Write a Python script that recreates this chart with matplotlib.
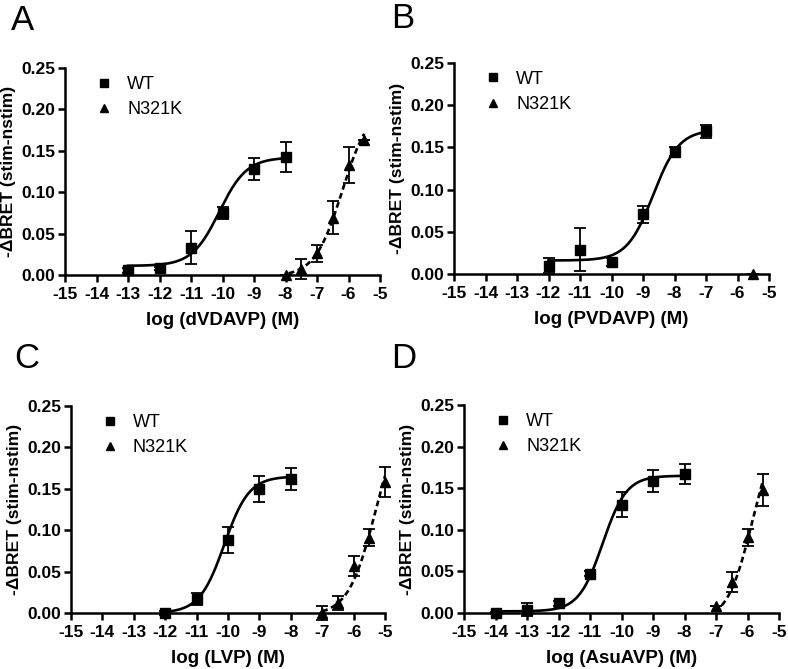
import numpy as np
import matplotlib
matplotlib.use('Agg')
import matplotlib.pyplot as plt

plt.rcParams['font.family'] = ['Liberation Sans', 'DejaVu Sans']
plt.rcParams['axes.unicode_minus'] = False

# ---- data ----
# panel A  (dVDAVP)
a_wt_x = [-13, -12, -11, -10, -9, -8]
a_wt_y = [0.006, 0.008, 0.033, 0.075, 0.128, 0.143]
a_wt_e = [0.003, 0.002, 0.020, 0.007, 0.013, 0.018]
a_mut_x = [-8, -7.5, -7, -6.5, -6, -5.5]
a_mut_y = [0.000, 0.007, 0.026, 0.069, 0.133, 0.163]
a_mut_e = [0.000, 0.012, 0.010, 0.020, 0.022, 0.000]
# fitted sigmoid parameters: bottom, top, logEC50, hill
a_wt_fit = (0.011, 0.142, -10.1, 1.0)
a_mut_fit = (-0.002, 0.205, -6.2, 1.0)

# panel B  (PVDAVP)
b_wt_x = [-12, -11, -10, -9, -8, -7]
b_wt_y = [0.010, 0.029, 0.014, 0.071, 0.145, 0.169]
b_wt_e = [0.009, 0.025, 0.005, 0.010, 0.005, 0.008]
b_mut_x = [-5.5]
b_mut_y = [0.000]
b_mut_e = [0.000]
b_wt_fit = (0.016, 0.171, -8.68, 1.05)
b_mut_fit = None

# panel C  (LVP)
c_wt_x = [-12, -11, -10, -9, -8]
c_wt_y = [0.000, 0.017, 0.088, 0.150, 0.162]
c_wt_e = [0.002, 0.007, 0.016, 0.016, 0.013]
c_mut_x = [-7, -6.5, -6, -5.5, -5]
c_mut_y = [0.000, 0.012, 0.057, 0.091, 0.158]
c_mut_e = [0.008, 0.008, 0.012, 0.010, 0.018]
c_wt_fit = (0.0, 0.165, -10.12, 1.1)
c_mut_fit = (-0.003, 0.25, -5.3, 1.0)

# panel D  (AsuAVP)
d_wt_x = [-14, -13, -12, -11, -10, -9, -8]
d_wt_y = [0.000, 0.004, 0.012, 0.047, 0.130, 0.159, 0.167]
d_wt_e = [0.001, 0.008, 0.003, 0.003, 0.015, 0.013, 0.012]
d_mut_x = [-7, -6.5, -6, -5.5]
d_mut_y = [0.008, 0.037, 0.091, 0.148]
d_mut_e = [0.000, 0.012, 0.010, 0.019]
d_wt_fit = (0.002, 0.165, -10.6, 1.15)
d_mut_fit = (-0.01, 0.23, -5.85, 1.1)

xlabels = ['log (dVDAVP) (M)', 'log (PVDAVP) (M)', 'log (LVP) (M)', 'log (AsuAVP) (M)']
letters = ['A', 'B', 'C', 'D']

panels = [
    (a_wt_x, a_wt_y, a_wt_e, a_wt_fit, (-13, -8), a_mut_x, a_mut_y, a_mut_e, a_mut_fit, (-7.9, -5.5)),
    (b_wt_x, b_wt_y, b_wt_e, b_wt_fit, (-12, -7), b_mut_x, b_mut_y, b_mut_e, b_mut_fit, None),
    (c_wt_x, c_wt_y, c_wt_e, c_wt_fit, (-12, -8), c_mut_x, c_mut_y, c_mut_e, c_mut_fit, (-7, -5)),
    (d_wt_x, d_wt_y, d_wt_e, d_wt_fit, (-14, -8), d_mut_x, d_mut_y, d_mut_e, d_mut_fit, (-7.3, -5.5)),
]

# axes boxes in pixels: left, top, right, bottom
W, H = 788, 669
boxes = [(65, 68, 380, 275), (454, 63, 769, 274), (71, 406, 385, 613), (464, 405, 779, 613)]
letter_pos = [(11, 4), (391, 2), (14, 342), (391, 342)]


def sigmoid(x, p):
    bot, top, ec, h = p
    return bot + (top - bot) / (1 + 10 ** ((ec - x) * h))


fig = plt.figure(figsize=(W / 100, H / 100), dpi=100)

for i, (wx, wy, we, wfit, wr, mx, my, me, mfit, mr) in enumerate(panels):
    l, t, r, b = boxes[i]
    ax = fig.add_axes([l / W, 1 - b / H, (r - l) / W, (b - t) / H])

    xs = np.linspace(wr[0], wr[1], 200)
    ax.plot(xs, sigmoid(xs, wfit), color='black', lw=1.9, zorder=2)
    if mfit is not None:
        xs = np.linspace(mr[0], mr[1], 200)
        ax.plot(xs, sigmoid(xs, mfit), color='black', lw=1.9, ls=(0, (2.2, 1.4)), zorder=2)

    ax.errorbar(wx, wy, yerr=we, fmt='s', color='black', ms=7, capsize=4,
                elinewidth=1.3, capthick=1.3, zorder=3, clip_on=False, label='WT')
    ax.errorbar(mx, my, yerr=me, fmt='^', color='black', ms=6.5, capsize=4,
                elinewidth=1.3, capthick=1.3, zorder=3, clip_on=False, label='N321K')

    ax.set_xlim(-15, -5)
    ax.set_ylim(0, 0.25)
    ax.set_xticks(range(-15, -4))
    ax.set_yticks([0, 0.05, 0.10, 0.15, 0.20, 0.25])
    ax.set_yticklabels(['0.00', '0.05', '0.10', '0.15', '0.20', '0.25'])
    for s in ['top', 'right']:
        ax.spines[s].set_visible(False)
    for s in ['left', 'bottom']:
        ax.spines[s].set_linewidth(1.8)
    ax.tick_params(width=1.8, length=5, labelsize=12.5, pad=2)
    ax.tick_params(axis='x', pad=3.5)
    for lab in ax.get_xticklabels() + ax.get_yticklabels():
        lab.set_fontweight('bold')
    ax.set_xlabel(xlabels[i], fontsize=13.5, fontweight='bold', labelpad=7)
    ax.set_ylabel('-\u0394BRET (stim-nstim)', fontsize=12.6, fontweight='bold', labelpad=4)

    hs, ls = ax.get_legend_handles_labels()
    hs = [h[0] for h in hs]
    ax.legend(hs, ls, loc='upper left', bbox_to_anchor=(0.045, 1.04), frameon=False,
              fontsize=13, handlelength=1.0, handletextpad=0.75, labelspacing=0.45,
              markerscale=0.8)

    lx, ly = letter_pos[i]
    fig.text(lx / W, 1 - ly / H, letters[i], fontsize=25, va='top', ha='left')

plt.savefig('out.png', dpi=100)
